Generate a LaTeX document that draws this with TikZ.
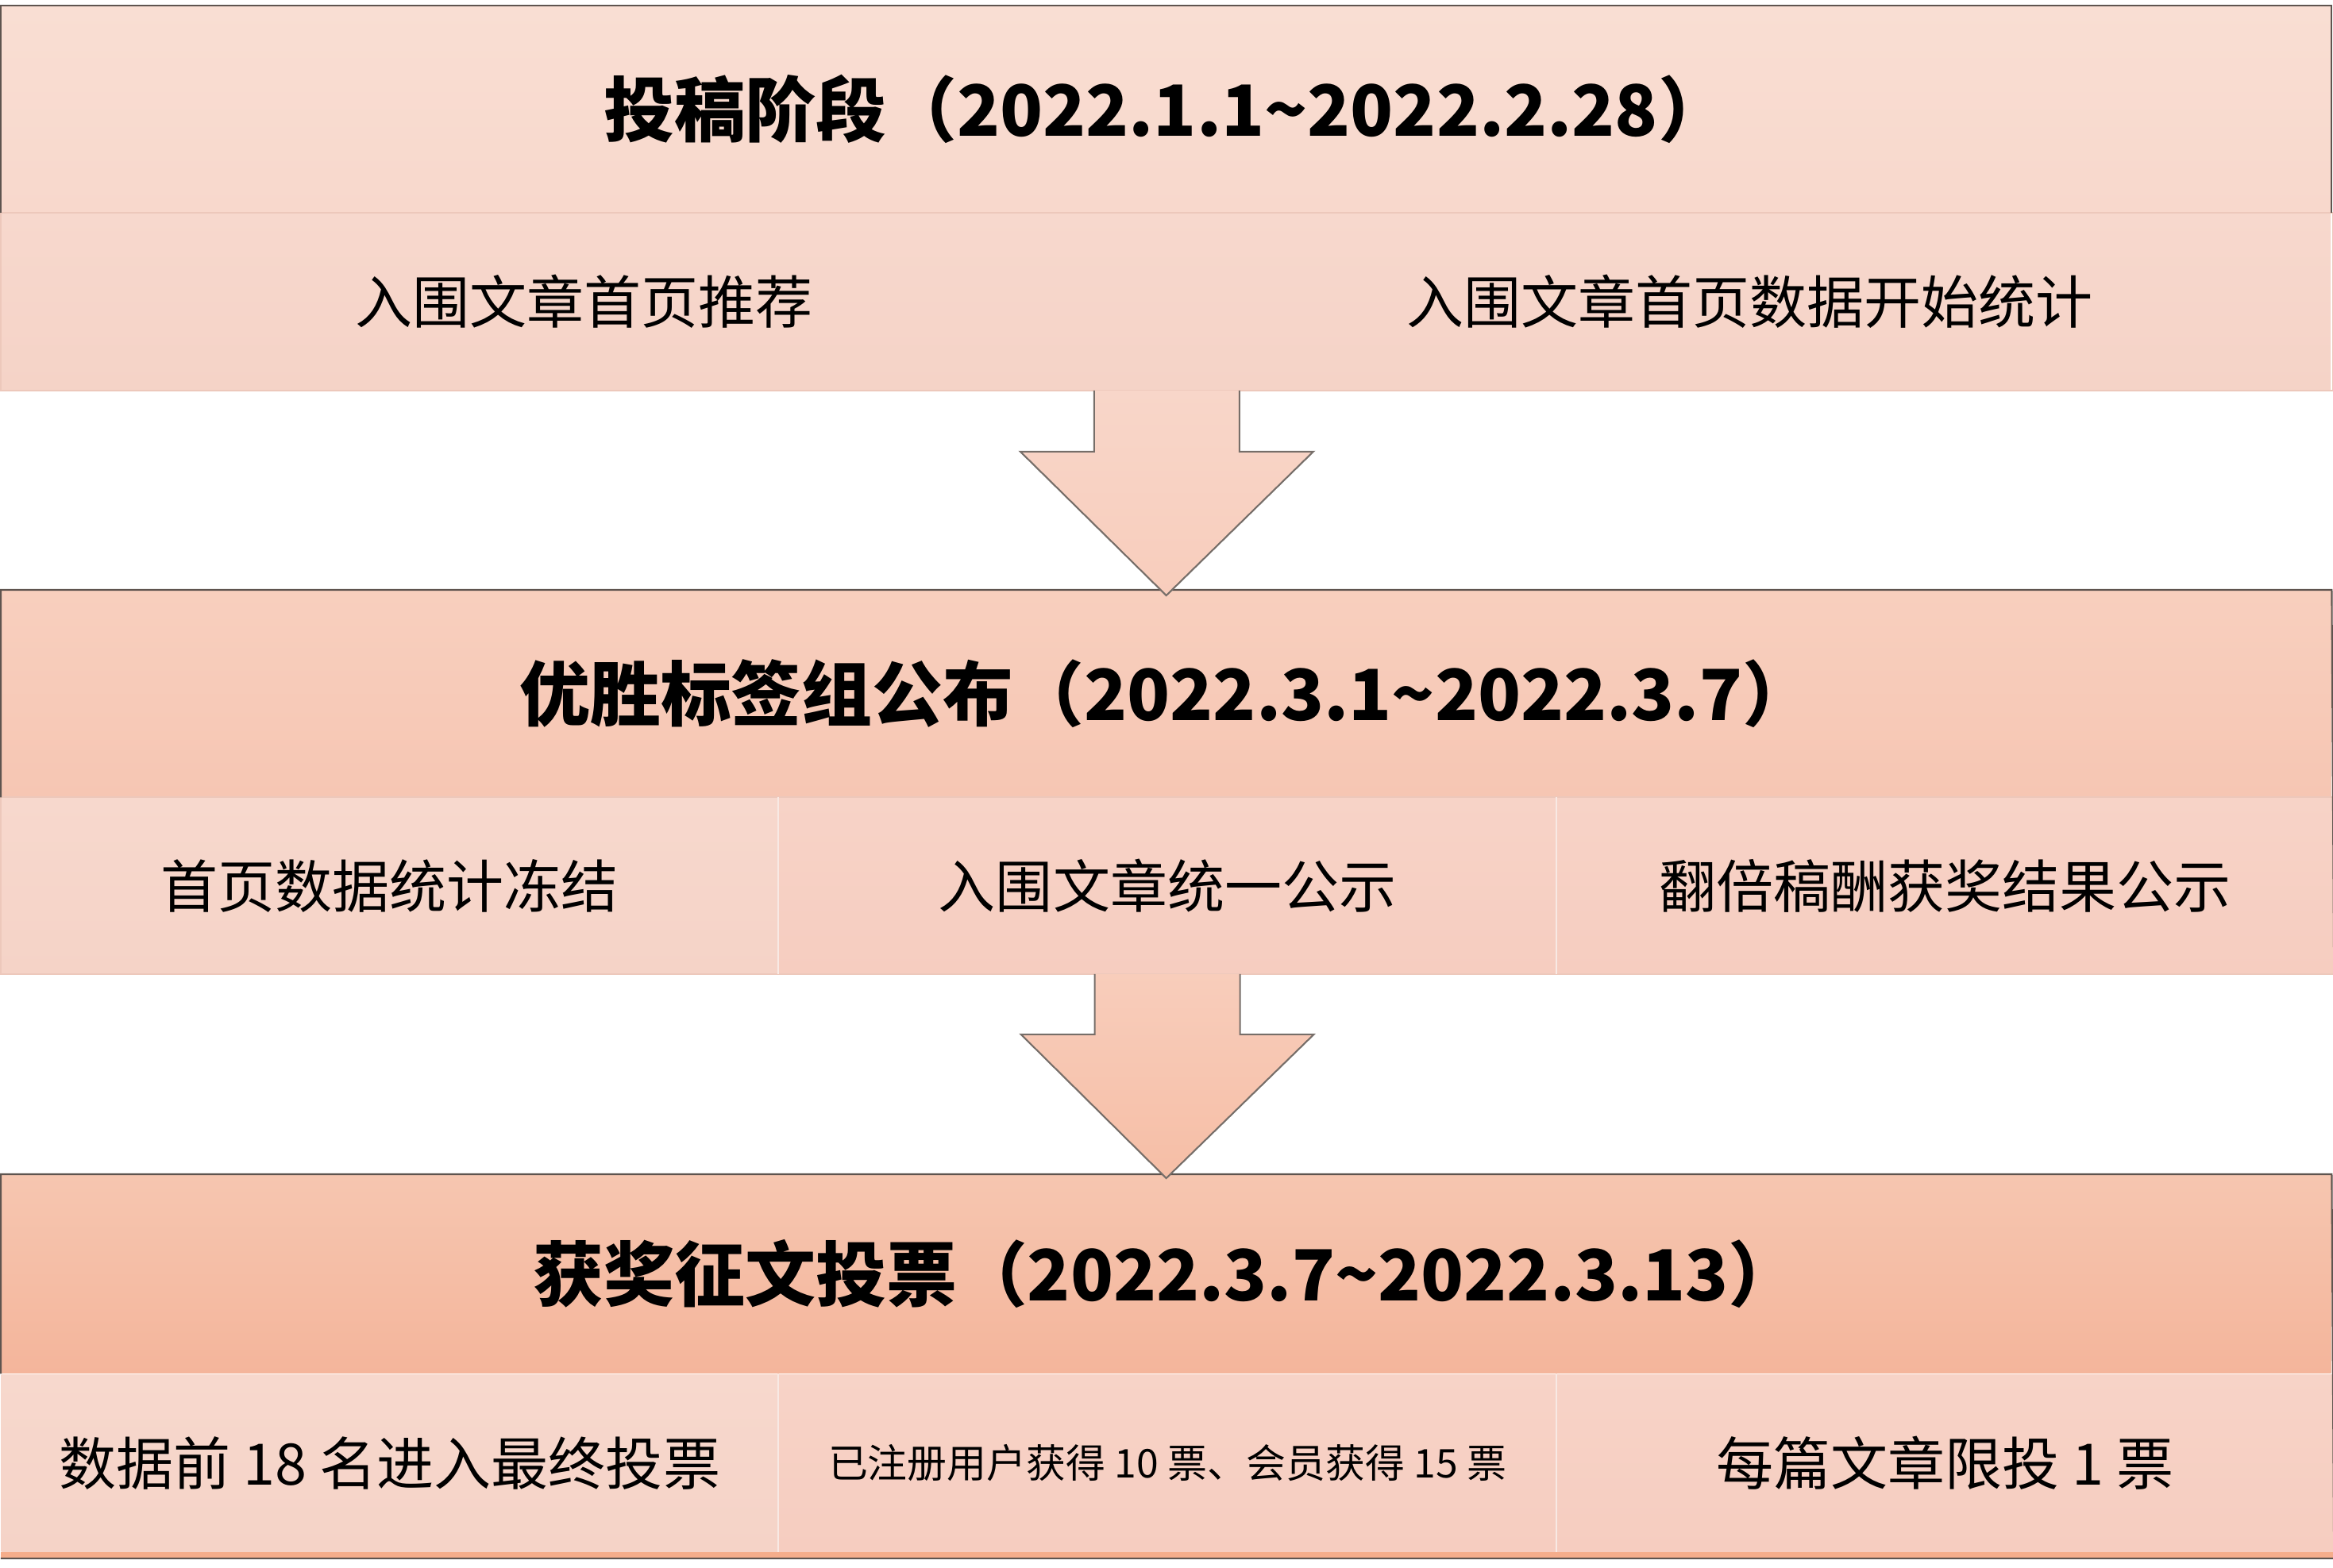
\documentclass[tikz,border=0pt]{standalone}
\usepackage{fontspec}
\setmainfont{Noto Sans CJK SC}
\usetikzlibrary{calc,positioning}

\definecolor{edgedark}{HTML}{5E544F}
\definecolor{edgelight}{HTML}{EDC8BB}
\definecolor{headAtop}{HTML}{F9DED3}
\definecolor{headAbot}{HTML}{F8D8CC}
\definecolor{headBtop}{HTML}{F8CFBE}
\definecolor{headBbot}{HTML}{F6C6B3}
\definecolor{headCtop}{HTML}{F6C6B0}
\definecolor{headCbot}{HTML}{F4B59B}
\definecolor{cellAtop}{HTML}{F7D8CD}
\definecolor{cellAbot}{HTML}{F5D3C7}
\definecolor{cellBtop}{HTML}{F7D3C7}
\definecolor{cellBbot}{HTML}{F6CDC0}
\definecolor{stripcol}{HTML}{F5AD8B}
\definecolor{arrowAtop}{HTML}{F8D6C9}
\definecolor{arrowAbot}{HTML}{F8CDBC}
\definecolor{arrowBtop}{HTML}{F8CDBB}
\definecolor{arrowBbot}{HTML}{F6BEA6}

\tikzset{
  band/.style={inner sep=0pt, anchor=north west, minimum width=29.34cm,
    minimum height=#1, font=\bfseries\fontsize{25.3}{30}\selectfont},
  cell/.style={inner sep=0pt, anchor=north west, minimum height=#1,
    font=\fontsize{20.5}{25}\selectfont},
  frame/.style={draw=edgedark, line width=0.6pt},
  softframe/.style={draw=edgelight, line width=0.6pt},
  blockarrow/.style={draw=edgedark!85, line width=0.6pt, line join=miter}
}

\begin{document}
\begin{tikzpicture}
\useasboundingbox (0,0) rectangle (29.38,-19.75);

% stage 1
\node[band=2.60cm, top color=headAtop, bottom color=headAbot] (stage1) at (0.01,-0.07) {投稿阶段（2022.1.1\textasciitilde 2022.2.28）};
\shade[top color=cellAtop, bottom color=cellAbot] (stage1.south west) rectangle ++(29.34,-2.22);
\node[cell=2.22cm, minimum width=14.67cm] (stage1a) at (stage1.south west) {入围文章首页推荐};
\node[cell=2.22cm, minimum width=14.67cm] (stage1b) at (stage1a.north east) {入围文章首页数据开始统计};
\draw[softframe] (stage1a.north west) rectangle (stage1b.south east);
\draw[frame] (stage1.south west) -- (stage1.north west) -- (stage1.north east) -- (stage1.south east);

% stage 2
\node[band=2.60cm, top color=headBtop, bottom color=headBbot] (stage2) at (0.01,-7.43) {优胜标签组公布（2022.3.1\textasciitilde 2022.3.7）};
\node[cell=2.21cm, minimum width=9.78cm, top color=cellAtop, bottom color=cellAbot] (stage2a) at (stage2.south west) {首页数据统计冻结};
\node[cell=2.21cm, minimum width=9.78cm, top color=cellBtop, bottom color=cellBbot] (stage2b) at (stage2a.north east) {入围文章统一公示};
\node[cell=2.21cm, minimum width=9.78cm, top color=cellBtop, bottom color=cellBbot] (stage2c) at (stage2b.north east) {翻倍稿酬获奖结果公示};
\draw[softframe] (stage2a.north west) rectangle (stage2c.south east);
\draw[draw=white!60!edgelight, line width=0.6pt] (stage2a.north east) -- (stage2a.south east)
  (stage2b.north east) -- (stage2b.south east);
\draw[frame] (stage2.south west) -- (stage2.north west) -- (stage2.north east) -- (stage2c.south east);

% stage 3
\node[band=2.50cm, top color=headCtop, bottom color=headCbot] (stage3) at (0.01,-14.79) {获奖征文投票（2022.3.7\textasciitilde 2022.3.13）};
\node[cell=2.23cm, minimum width=9.78cm, top color=cellAtop, bottom color=cellAbot] (stage3a) at (stage3.south west) {数据前 18 名进入最终投票};
\node[cell=2.23cm, minimum width=9.78cm, top color=cellBtop, bottom color=cellBbot, font=\fontsize{14.2}{17}\selectfont] (stage3b) at (stage3a.north east) {已注册用户获得 10 票、会员获得 15 票};
\node[cell=2.23cm, minimum width=9.78cm, top color=cellBtop, bottom color=cellBbot] (stage3c) at (stage3b.north east) {每篇文章限投 1 票};
\draw[draw=white!60!edgelight, line width=0.6pt] (stage3a.north east) -- (stage3a.south east)
  (stage3b.north east) -- (stage3b.south east);
\coordinate (strip3) at ($(stage3c.south east)+(0,-0.08)$);
\fill[stripcol] (stage3a.south west) rectangle (strip3);
\draw[frame] (stage3.south west) -- (stage3.north west) -- (stage3.north east) -- (strip3) -- (strip3 -| stage3a.west);

% arrows between stages
\shade[blockarrow, top color=arrowAtop, bottom color=arrowAbot]
  ($(stage1a.south east)+(-0.915,0)$) -- ++(0,-0.77) -- ++(-0.93,0)
  -- ($(stage2.north)+(0,-0.07)$)
  -- ($(stage1a.south east)+(1.845,-0.77)$) -- ++(-0.93,0) -- ++(0,0.77);
\shade[blockarrow, top color=arrowBtop, bottom color=arrowBbot]
  ($(stage2b.south)+(-0.915,0)$) -- ++(0,-0.76) -- ++(-0.93,0)
  -- ($(stage3.north)+(0,-0.05)$)
  -- ($(stage2b.south)+(1.845,-0.76)$) -- ++(-0.93,0) -- ++(0,0.76);
\end{tikzpicture}
\end{document}
